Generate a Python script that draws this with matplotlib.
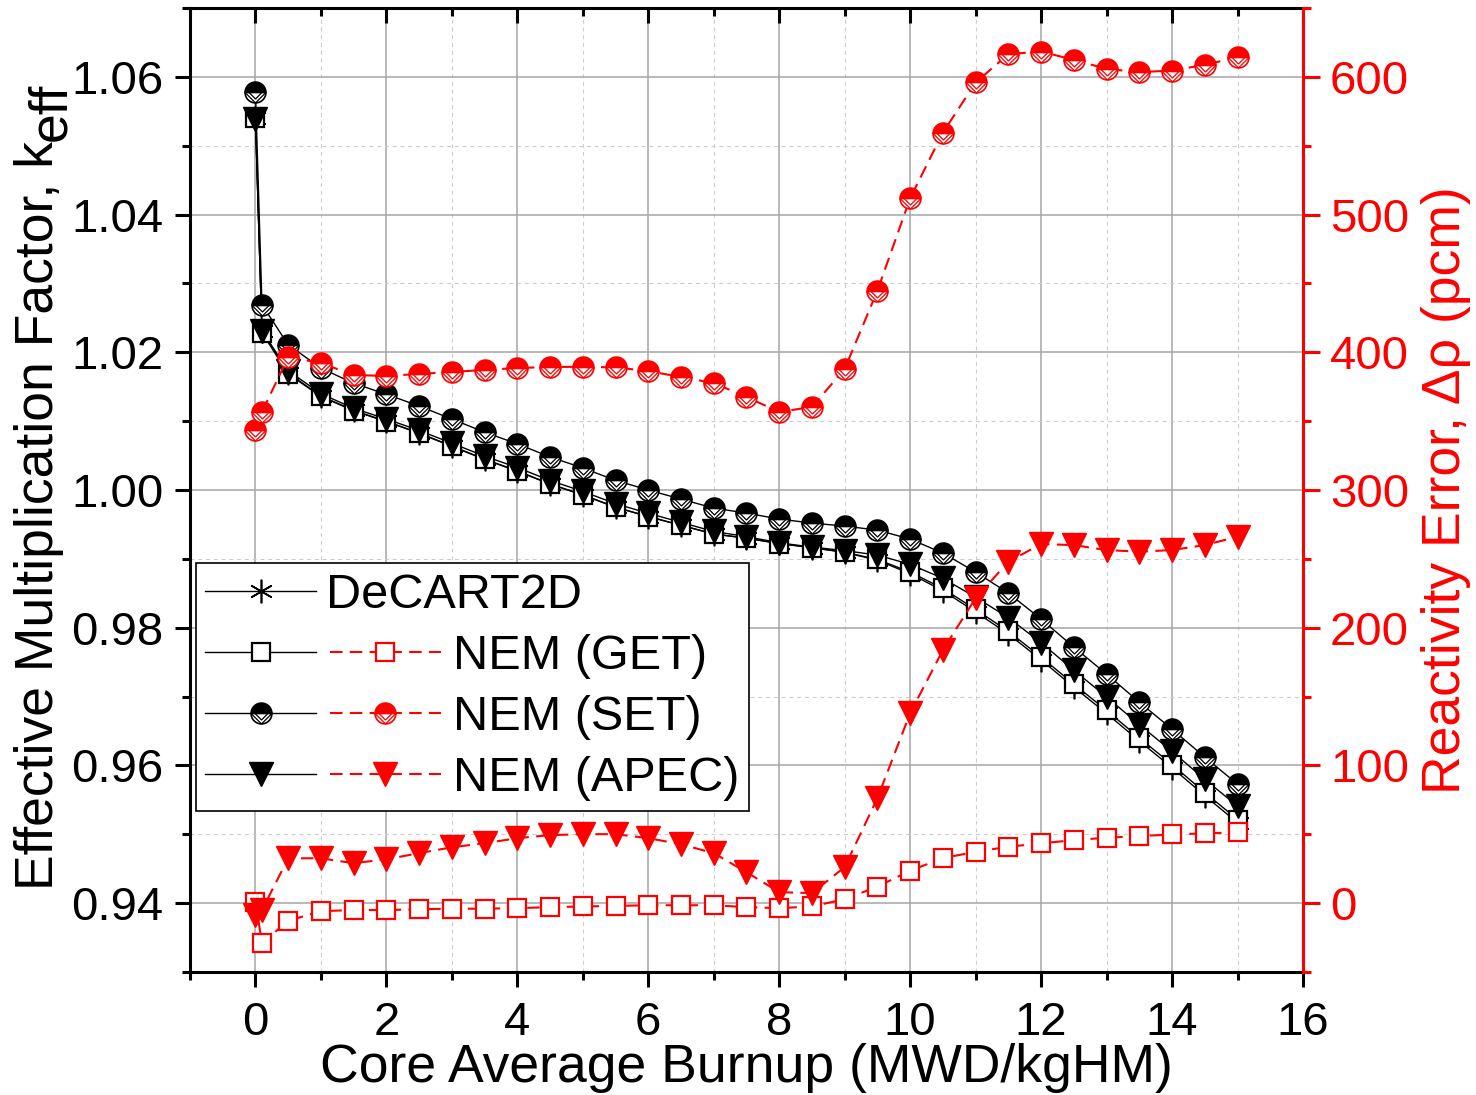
import matplotlib
matplotlib.use('Agg')
import matplotlib.pyplot as plt
from matplotlib.lines import Line2D
from matplotlib.path import Path
from matplotlib.ticker import MultipleLocator
from matplotlib.legend_handler import HandlerTuple

plt.rcParams['font.family'] = ['Liberation Sans', 'DejaVu Sans']

# burnup steps (MWD/kgHM)
burnup = [0.0, 0.1, 0.5, 1.0, 1.5, 2.0, 2.5, 3.0, 3.5, 4.0, 4.5, 5.0, 5.5, 6.0, 6.5, 7.0,
          7.5, 8.0, 8.5, 9.0, 9.5, 10.0, 10.5, 11.0, 11.5, 12.0, 12.5, 13.0, 13.5, 14.0, 14.5, 15.0]

# k-eff, left axis
keff_decart = [1.05397, 1.02315, 1.01698, 1.01365, 1.01156, 1.00998, 1.00828, 1.00638, 1.00448, 1.00278,
               1.00088, 0.99930, 0.99751, 0.99615, 0.99488, 0.99362, 0.99302, 0.99225, 0.99164, 0.99094,
               0.98980, 0.98785, 0.98538, 0.98229, 0.97908, 0.97533, 0.97137, 0.96755, 0.96355, 0.95967,
               0.95561, 0.95168]
keff_get = [1.05398, 1.02285, 1.01685, 1.01359, 1.01151, 1.00993, 1.00824, 1.00634, 1.00444, 1.00274,
            1.00085, 0.99928, 0.99749, 0.99614, 0.99487, 0.99361, 0.99299, 0.99221, 0.99162, 0.99097,
            0.98992, 0.98808, 0.98570, 0.98265, 0.97947, 0.97574, 0.97180, 0.96800, 0.96400, 0.96013,
            0.95607, 0.95215]
keff_set = [1.0578, 1.0269, 1.0211, 1.0177, 1.0155, 1.0139, 1.0122, 1.0103, 1.0084, 1.0067,
            1.0048, 1.0032, 1.0014, 1.0000, 0.99868, 0.99737, 0.99665, 0.99578, 0.9952, 0.99476,
            0.99418, 0.99287, 0.99084, 0.98808, 0.98503, 0.98125, 0.97718, 0.97326, 0.96919, 0.96527,
            0.9612, 0.95728]
keff_apec = [1.05387, 1.0231, 1.01732, 1.01399, 1.01186, 1.01031, 1.00865, 1.00679, 1.00492, 1.00326,
             1.00138, 0.9998, 0.99801, 0.99662, 0.9953, 0.99398, 0.99324, 0.99233, 0.99171, 0.9912,
             0.99055, 0.9892, 0.98717, 0.98443, 0.98146, 0.97781, 0.97382, 0.96995, 0.96592, 0.96203,
             0.95798, 0.95409]

# reactivity error vs DeCART2D (pcm), right axis
rho_get = [1, -29, -12.8, -5.8, -5, -5, -4.4, -4, -4, -3.6, -2.9, -2.4, -2, -1.5, -1.5, -1.5,
           -2.9, -3.6, -2.4, 2.9, 12, 23.6, 32.7, 37.3, 41, 43.4, 45.8, 47.5, 48.7, 49.9, 50.7, 51.4]
rho_set = [343.6, 356.7, 396.6, 392.2, 383.5, 382.8, 384.3, 385.7, 387.2, 388.6, 389.3, 389.5,
           389, 386.4, 382, 377.7, 367.5, 356.7, 360.3, 387.9, 444.8, 511.9, 559.5, 595.9,
           616.5, 618.4, 612.3, 605.8, 603.4, 604.6, 608.7, 614.3]
rho_apec = [-8.7, -5, 32.6, 32.6, 29, 31.9, 36.3, 40.6, 43.5, 47.2, 49.4, 50.1, 50.1, 47.2, 42.8,
            36.3, 22.5, 8, 7.3, 26.2, 76.3, 138, 183.8, 221.6, 247.9, 260.8, 260, 256.4, 255.2,
            256.4, 260, 266.1]

labels = ['DeCART2D', 'NEM (GET)', 'NEM (SET)', 'NEM (APEC)']

RED = '#ff0000'
FS_TICK = 34
FS_LAB = 38.5
FS_LEG = 35

# "V" drawn inside the white lower half of the SET circles
v_mark = Path([(-1, 0), (0, -1), (1, 0), (-0.62, 0), (0, -0.62), (0.62, 0)],
              [Path.MOVETO, Path.LINETO, Path.LINETO, Path.MOVETO, Path.LINETO, Path.LINETO])

fig = plt.figure(figsize=(14.76, 10.95), dpi=100)
ax = fig.add_axes([0.1287, 0.1123, 0.7541, 0.8804])
ax2 = ax.twinx()

# black k-eff curves: lines first, markers on top
l_dec, = ax.plot(burnup, keff_decart, color='k', lw=1.0, zorder=2)
l_get, = ax.plot(burnup, keff_get, color='k', lw=1.0, zorder=2)
l_set, = ax.plot(burnup, keff_set, color='k', lw=1.0, zorder=2)
l_apec, = ax.plot(burnup, keff_apec, color='k', lw=1.0, zorder=2)

m_dec, = ax.plot(burnup, keff_decart, ls='none', marker=(6, 2, 0), ms=17, mec='k', mew=1.2, zorder=3)
m_get, = ax.plot(burnup, keff_get, ls='none', marker='s', ms=13, mfc='white', mec='k', mew=1.6, zorder=4)
m_set, = ax.plot(burnup, keff_set, ls='none', marker='o', ms=15, fillstyle='top', mfc='k',
                 markerfacecoloralt='white', mec='k', mew=1.2, zorder=5)
v_set, = ax.plot(burnup, keff_set, ls='none', marker=v_mark, ms=15, mfc='none', mec='k', mew=0.9, zorder=5.1)
m_apec, = ax.plot(burnup, keff_apec, ls='none', marker='v', ms=17, color='k', zorder=6)

# red reactivity error curves
dash = (0, (6, 3.5))
r_l_get, = ax2.plot(burnup, rho_get, color=RED, lw=1.5, ls=dash, zorder=2)
r_l_set, = ax2.plot(burnup, rho_set, color=RED, lw=1.5, ls=dash, zorder=2)
r_l_apec, = ax2.plot(burnup, rho_apec, color=RED, lw=1.5, ls=dash, zorder=2)

r_m_get, = ax2.plot(burnup, rho_get, ls='none', marker='s', ms=13, mfc='white', mec=RED, mew=1.6, zorder=4)
r_m_set, = ax2.plot(burnup, rho_set, ls='none', marker='o', ms=15, fillstyle='top', mfc=RED,
                    markerfacecoloralt='white', mec=RED, mew=1.2, zorder=5)
r_v_set, = ax2.plot(burnup, rho_set, ls='none', marker=v_mark, ms=15, mfc='none', mec=RED, mew=0.9, zorder=5.1)
r_m_apec, = ax2.plot(burnup, rho_apec, ls='none', marker='v', ms=17, color=RED, zorder=6)

# axes ranges / ticks
ax.set_xlim(-1, 16)
ax.set_ylim(0.93, 1.07)
ax2.set_ylim(-50, 650)
ax.xaxis.set_major_locator(MultipleLocator(2))
ax.xaxis.set_minor_locator(MultipleLocator(1))
ax.yaxis.set_major_locator(MultipleLocator(0.02))
ax.yaxis.set_minor_locator(MultipleLocator(0.01))
ax2.yaxis.set_major_locator(MultipleLocator(100))
ax2.yaxis.set_minor_locator(MultipleLocator(50))

ax.tick_params(axis='both', which='both', direction='out', width=2.2, labelsize=FS_TICK)
ax.tick_params(axis='both', which='major', length=11)
ax.tick_params(axis='both', which='minor', length=5.5)
ax.tick_params(axis='y', right=False, pad=8)
ax.tick_params(axis='x', top=False, pad=9.5)

ax2.xaxis.set_visible(True)
ax2.tick_params(axis='x', which='both', bottom=False, labelbottom=False, top=True, labeltop=False,
                direction='in', width=2.2)
ax2.tick_params(axis='x', which='major', length=11)
ax2.tick_params(axis='x', which='minor', length=5.5)
ax2.tick_params(axis='y', which='both', colors=RED, direction='out', width=2.2,
                labelsize=FS_TICK, pad=7.5)
ax2.tick_params(axis='y', which='major', length=12)
ax2.tick_params(axis='y', which='minor', length=5.5)

for s in ['left', 'bottom', 'top']:
    ax.spines[s].set_linewidth(2.2)
    ax2.spines[s].set_visible(False)
ax.spines['right'].set_visible(False)
ax2.spines['right'].set_color(RED)
ax2.spines['right'].set_linewidth(2.2)

ax.set_axisbelow(True)
ax.grid(which='major', color='#a6a6a6', lw=1.1, ls='-')
ax.grid(which='minor', color='#cccccc', lw=0.8, ls=(0, (3.5, 3.5)))

# axis labels
ax.set_xlabel('Core Average Burnup (MWD/kgHM)', fontsize=FS_LAB, labelpad=-1)
ylab = ax.set_ylabel('Effective Multiplication Factor, k', fontsize=FS_LAB)
ax.yaxis.set_label_coords(-0.1132, 0.474)
ax.annotate('eff', xy=(1, 1), xycoords=ylab, xytext=(8.6, 0), textcoords='offset points',
            rotation=90, rotation_mode='anchor', ha='left', va='bottom', fontsize=FS_LAB)
ax2.set_ylabel('Reactivity Error, Δρ (pcm)', fontsize=FS_LAB, color=RED)
ax2.yaxis.set_label_coords(1.106, 0.5)

# legend: black handle (keff) + red handle (error) per method
blank = Line2D([], [], ls='none', marker='')
rows = [((l_dec, m_dec), blank),
        ((l_get, m_get), (r_l_get, r_m_get)),
        ((l_set, m_set, v_set), (r_l_set, r_m_set, r_v_set)),
        ((l_apec, m_apec), (r_l_apec, r_m_apec))]
hmap = {r: HandlerTuple(ndivide=None, pad=0.29) for r in rows}
leg = ax2.legend(rows, labels, handler_map=hmap, loc='upper left', bbox_to_anchor=(0.005, 0.424),
                 borderaxespad=0, fontsize=FS_LEG, frameon=True, fancybox=False, edgecolor='k',
                 framealpha=1, handlelength=4.84, handletextpad=0.25, borderpad=0.2,
                 labelspacing=0.33, numpoints=1)
leg.get_frame().set_linewidth(1.2)
leg.set_zorder(10)
# DeCART2D has only one handle, so its text sits right after it
leg.get_texts()[0].set_x(-127)

fig.savefig('out.png', dpi=100)
